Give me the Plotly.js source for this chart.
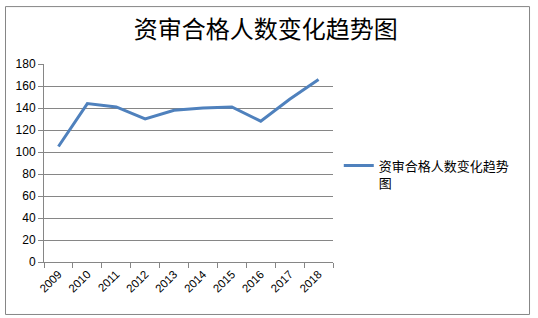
<!DOCTYPE html>
<html>
<head>
<meta charset="utf-8">
<script src="https://cdn.plot.ly/plotly-3.0.1.min.js"></script>
<style>html,body{margin:0;padding:0;background:#fff;}#chart{width:538px;height:318px;}</style>
</head>
<body>
<div id="chart"></div>
<script>
const years = ['2009','2010','2011','2012','2013','2014','2015','2016','2017','2018'];
const counts = [105, 144, 141, 130, 138, 140, 141, 128, 148, 166];
const seriesName = '资审合格人数变化趋势<br>图';
const chartTitle = '资审合格人数变化趋势图';
const yTicks = [0,20,40,60,80,100,120,140,160,180];

const trace = {
  x: years, y: counts, type: 'scatter', mode: 'lines',
  name: seriesName,
  line: {color: '#4F81BD', width: 3},
  showlegend: true
};
const layout = {
  width: 538, height: 318,
  margin: {l: 44, r: 205, t: 64, b: 56},
  paper_bgcolor: '#fff', plot_bgcolor: '#fff',
  title: {text: chartTitle, xref: 'container', yref: 'container', x: 0.494, xanchor: 'center', y: 0.906, yanchor: 'middle',
          font: {family: 'Noto Sans CJK SC', size: 24, color: '#000'}},
  xaxis: {type: 'category', tickson: 'boundaries', showgrid: false, showline: true, linecolor: '#868686', linewidth: 1,
          ticks: 'outside', ticklen: 5, tickcolor: '#868686', tickangle: -45,
          tickfont: {family: 'Liberation Sans', size: 11.5, color: '#000'}, zeroline: false, range: [-0.5, 9.5], fixedrange: true},
  yaxis: {range: [0, 180], tickvals: yTicks, showgrid: true, gridcolor: '#868686', gridwidth: 1, showline: true, linecolor: '#868686',
          ticks: 'outside', ticklen: 5, tickcolor: '#868686', zeroline: false,
          tickfont: {family: 'Liberation Sans', size: 12, color: '#000'}},
  legend: {x: 1.02, xanchor: 'left', y: 0.444, yanchor: 'middle', valign: 'top',
           font: {family: 'Noto Sans CJK SC', size: 13, color: '#000'}, bgcolor: 'rgba(0,0,0,0)', tracegroupgap: 0},
  shapes: [{type: 'rect', xref: 'paper', yref: 'paper', x0: -0.1332, x1: 1.680, y0: -0.265, y1: 1.290,
            line: {color: '#868686', width: 1}, fillcolor: 'rgba(0,0,0,0)', layer: 'below'}]
};
Plotly.newPlot('chart', [trace], layout, {staticPlot: true, displayModeBar: false});
</script>
</body>
</html>
